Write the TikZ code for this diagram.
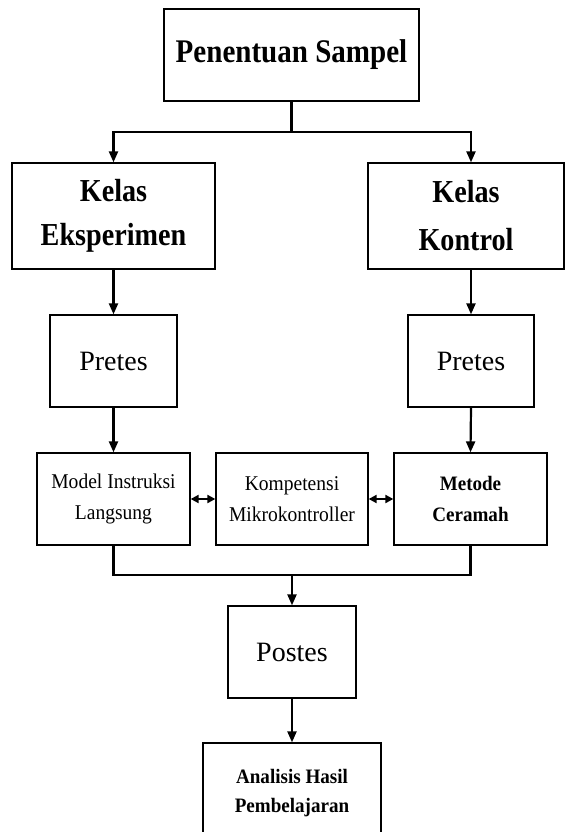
\documentclass[tikz,border=0pt]{standalone}
\usepackage{fontspec}
\setmainfont{Liberation Serif}
\newfontfamily\bigf[FakeStretch=0.88]{Liberation Serif}
\newfontfamily\smf[FakeStretch=0.93]{Liberation Serif}
\usetikzlibrary{arrows.meta}
\begin{document}
\begin{tikzpicture}[x=1pt,y=-1pt,
  box/.style={draw,line width=1.3pt,inner sep=0pt,align=center,minimum height=92pt},
  bigtxt/.style={font={\bigf\bfseries\fontsize{32}{44}\selectfont}},
  midtxt/.style={font={\fontsize{28}{34}\selectfont}},
  smalltxt/.style={font={\smf\fontsize{21}{31}\selectfont}},
  smallbold/.style={font={\smf\bfseries\fontsize{20.5}{31}\selectfont}},
  conn/.style={line width=2.2pt},
  arr/.style={conn,-{Triangle[length=11pt,width=9pt]}},
  darr/.style={conn,{Triangle[length=8pt,width=8pt]}-{Triangle[length=8pt,width=8pt]}}]
\fill[white] (0,0) rectangle (566,832);
\clip (0,0) rectangle (566,832);

\node[box,minimum width=255pt,font={\bigf\bfseries\fontsize{33}{40}\selectfont}] (pen) at (291.5,55) {Penentuan Sampel};
\node[box,bigtxt,minimum width=203pt,minimum height=106pt] (ke) at (113.5,216) {Kelas\\Eksperimen};
\node[box,minimum width=196pt,minimum height=106pt,font={\bigf\bfseries\fontsize{32}{48}\selectfont}] (kk) at (466,216) {Kelas\\Kontrol};
\node[box,midtxt,minimum width=127pt] (p1) at (113.5,361) {Pretes};
\node[box,midtxt,minimum width=126pt] (p2) at (471,361) {Pretes};
\node[box,smalltxt,minimum width=153pt] (mi) at (113.5,499) {Model Instruksi\\Langsung};
\node[box,smalltxt,minimum width=152pt] (km) at (292,499) {Kompetensi\\Mikrokontroller};
\node[box,smallbold,minimum width=153pt] (mc) at (470.5,499) {Metode\\Ceramah};
\node[box,midtxt,minimum width=128pt] (po) at (292,652) {Postes};
\node[box,minimum width=178pt,minimum height=100pt,font={\smf\bfseries\fontsize{20.5}{29}\selectfont}] (an) at (292,793) {Analisis Hasil\\Pembelajaran};

\coordinate (jt) at (291.5,132);
\coordinate (jb) at (292,575);

\draw[conn] (pen.south) -- (jt);
\draw[arr] (jt) -| (ke.north);
\draw[arr] (jt) -| (p2.north |- kk.north);
\draw[arr] (ke.south) -- (p1.north);
\draw[arr] (p2.north |- kk.south) -- (p2.north);
\draw[arr] (p1.south) -- (mi.north);
\draw[arr] (p2.south) -- (mc.north);
\draw[darr] (mi.east) -- (km.west);
\draw[darr] (km.east) -- (mc.west);
\draw[conn] (mi.south) |- (jb) -| (mc.south);
\draw[arr] (jb) -- (po.north);
\draw[arr] (po.south) -- (an.north);
\end{tikzpicture}
\end{document}
